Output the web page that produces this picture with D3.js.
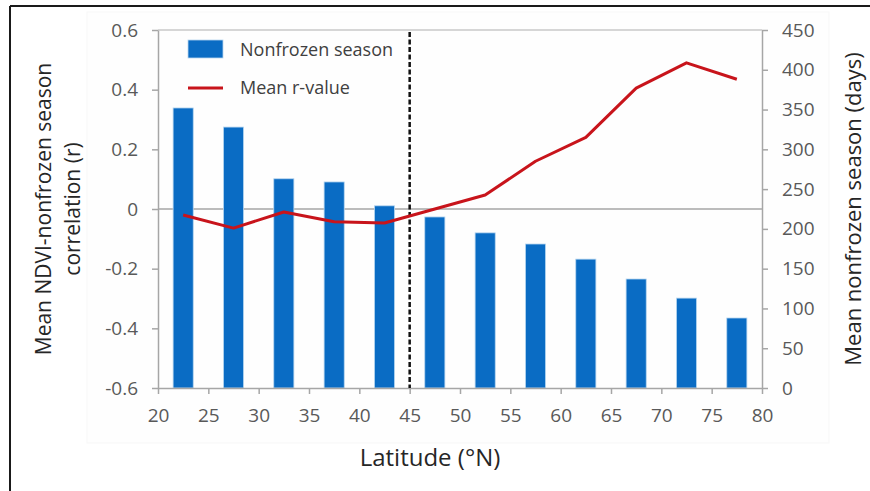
<!DOCTYPE html>
<html>
<head>
<meta charset="utf-8">
<script src="https://cdn.jsdelivr.net/npm/d3@7"></script>
<style>
  body { margin: 0; background: #fff; }
  svg { font-family: "Open Sans", sans-serif; }
</style>
</head>
<body>
<script>
// latitude band centres (°N)
const latitudes = [22.5, 27.5, 32.5, 37.5, 42.5, 47.5, 52.5, 57.5, 62.5, 67.5, 72.5, 77.5];
// mean nonfrozen season length (days), right axis
const nonfrozenDays = [352, 328, 263, 259, 229, 215, 195, 181, 162, 137, 113, 88];
// mean NDVI-nonfrozen season correlation (r), left axis
const meanR = [-0.02, -0.064, -0.01, -0.043, -0.047, 0.0, 0.047, 0.16, 0.24, 0.405, 0.49, 0.435];

const xTicks = [20, 25, 30, 35, 40, 45, 50, 55, 60, 65, 70, 75, 80];
const leftTicks = [-0.6, -0.4, -0.2, 0, 0.2, 0.4, 0.6];
const rightTicks = [0, 50, 100, 150, 200, 250, 300, 350, 400, 450];
const legendLabels = ['Nonfrozen season', 'Mean r-value'];
const splitLatitude = 45;

const width = 870, height = 491;
const plot = { left: 158, right: 762, top: 30, bottom: 388 };

const svg = d3.select('body').append('svg')
  .attr('width', width)
  .attr('height', height);

// faint chart area + outer frame
svg.append('rect')
  .attr('x', 87).attr('y', 12).attr('width', 742).attr('height', 431)
  .attr('fill', '#fefefe').attr('stroke', '#f7f7f7');
svg.append('line').attr('x1', 10).attr('x2', 10).attr('y1', 6).attr('y2', height)
  .attr('stroke', '#1a1a1a').attr('stroke-width', 2);
svg.append('line').attr('x1', 10).attr('x2', width).attr('y1', 6).attr('y2', 6)
  .attr('stroke', '#1a1a1a').attr('stroke-width', 2);

const x = d3.scaleLinear().domain([20, 80]).range([plot.left, plot.right]);
const yL = d3.scaleLinear().domain([-0.6, 0.6]).range([plot.bottom, plot.top]);
const yR = d3.scaleLinear().domain([0, 450]).range([plot.bottom, plot.top]);

// gridlines at 0.6 and 0
svg.append('g').selectAll('line')
  .data([0.6, 0])
  .join('line')
  .attr('x1', plot.left).attr('x2', plot.right)
  .attr('y1', d => yL(d)).attr('y2', d => yL(d))
  .attr('stroke', d => d === 0 ? '#a6a6a6' : '#c8c8c8')
  .attr('stroke-width', 1.5);

// bars
const barHalf = 1;
svg.append('g').selectAll('rect')
  .data(latitudes)
  .join('rect')
  .attr('x', d => x(d - barHalf))
  .attr('width', d => x(d + barHalf) - x(d - barHalf))
  .attr('y', (d, i) => yR(nonfrozenDays[i]))
  .attr('height', (d, i) => yR(0) - yR(nonfrozenDays[i]))
  .attr('fill', '#0a6cc4')
  .attr('stroke', '#b9d7f0')
  .attr('stroke-width', 0.8);

// axes
const styleAxis = g => {
  g.selectAll('.domain').attr('stroke', '#a6a6a6').attr('stroke-width', 1.5);
  g.selectAll('.tick line').attr('stroke', '#a6a6a6').attr('stroke-width', 1.5);
  g.selectAll('.tick text')
    .attr('fill', '#595959')
    .style('font-size', '19px')
    .style('font-family', '"Open Sans", sans-serif');
};

svg.append('g')
  .attr('transform', `translate(0,${plot.bottom})`)
  .call(d3.axisBottom(x).tickValues(xTicks).tickSize(6).tickSizeOuter(0).tickPadding(15).tickFormat(d3.format('d')))
  .call(styleAxis);

svg.append('g')
  .attr('transform', `translate(${plot.left},0)`)
  .call(d3.axisLeft(yL).tickValues(leftTicks).tickSize(6).tickSizeOuter(0).tickPadding(14)
    .tickFormat(d => d === 0 ? '0' : d3.format('.1f')(d).replace('−', '-')))
  .call(styleAxis);

svg.append('g')
  .attr('transform', `translate(${plot.right},0)`)
  .call(d3.axisRight(yR).tickValues(rightTicks).tickSize(6).tickSizeOuter(0).tickPadding(14))
  .call(styleAxis);

// dashed divider at 45°N
svg.append('line')
  .attr('x1', x(splitLatitude)).attr('x2', x(splitLatitude))
  .attr('y1', plot.top + 2).attr('y2', plot.bottom)
  .attr('stroke', '#111').attr('stroke-width', 2.5)
  .attr('stroke-dasharray', '5,2.5');

// mean r line
const line = d3.line()
  .x((d, i) => x(latitudes[i]))
  .y(d => yL(d));
svg.append('path')
  .datum(meanR)
  .attr('d', line)
  .attr('fill', 'none')
  .attr('stroke', '#c8141b')
  .attr('stroke-width', 3)
  .attr('stroke-linejoin', 'round');

// legend
const legend = svg.append('g');
legend.append('rect')
  .attr('x', 188).attr('y', 40).attr('width', 35).attr('height', 18)
  .attr('fill', '#0a6cc4').attr('stroke', '#b9d7f0').attr('stroke-width', 0.8);
legend.append('line')
  .attr('x1', 188).attr('x2', 223).attr('y1', 88).attr('y2', 88)
  .attr('stroke', '#c8141b').attr('stroke-width', 3);
legend.selectAll('text')
  .data(legendLabels)
  .join('text')
  .attr('x', 240)
  .attr('y', (d, i) => 56 + i * 38)
  .attr('fill', '#404040')
  .style('font-size', '18px')
  .text(d => d);

// axis titles
svg.append('text')
  .attr('x', 430)
  .attr('y', 466)
  .attr('text-anchor', 'middle')
  .attr('fill', '#262626')
  .style('font-size', '24px')
  .text('Latitude (°N)');

const leftTitle = svg.append('g')
  .attr('transform', `translate(0,${yL(0)}) rotate(-90)`);
leftTitle.selectAll('text')
  .data(['Mean NDVI-nonfrozen season', 'correlation (r)'])
  .join('text')
  .attr('x', 0)
  .attr('y', (d, i) => 51 + i * 29)
  .attr('text-anchor', 'middle')
  .attr('fill', '#262626')
  .style('font-size', '21px')
  .text(d => d);

svg.append('text')
  .attr('transform', `translate(861,${yL(0)}) rotate(-90)`)
  .attr('text-anchor', 'middle')
  .attr('fill', '#262626')
  .style('font-size', '22px')
  .text('Mean nonfrozen season (days)');
</script>
</body>
</html>
